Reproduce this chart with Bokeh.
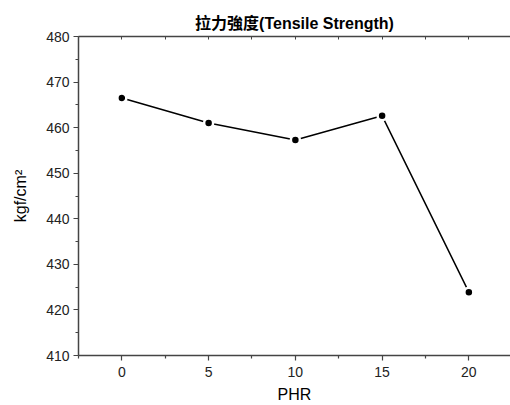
from bokeh.plotting import figure
from bokeh.models import Range1d, FixedTicker, LinearAxis, ColumnDataSource
from bokeh.embed import file_html
from bokeh.resources import INLINE

phr = [0, 5, 10, 15, 20]
strength = [466.5, 461.0, 457.3, 462.6, 423.9]
x_ticks = [0, 5, 10, 15, 20]
x_minor = [-2.5, 2.5, 7.5, 12.5, 17.5, 22.5]
y_ticks = [410, 420, 430, 440, 450, 460, 470, 480]
y_minor = [415, 425, 435, 445, 455, 465, 475]

FONT = "Liberation Sans, Arial, Noto Sans CJK TC"
AX = "#444444"
TXT = "#222222"

p = figure(width=510, height=405, output_backend="svg", toolbar_location=None,
           x_range=Range1d(-2.5, 22.4), y_range=Range1d(410, 480),
           min_border_left=78, min_border_right=0, min_border_top=36, min_border_bottom=49,
           title="拉力強度(Tensile Strength)")
p.title.align = "center"
p.title.offset = -5
p.title.text_font = FONT
p.title.text_font_size = "16px"
p.title.text_font_style = "bold"
p.title.text_color = "#000000"
p.outline_line_color = None
p.xgrid.visible = False
p.ygrid.visible = False

src = ColumnDataSource(dict(x=phr, y=strength))
p.line("x", "y", source=src, line_color="black", line_width=1.5)
p.scatter("x", "y", source=src, size=9, fill_color="black", line_color="white", line_width=2.5)

for ax in p.xaxis + p.yaxis:
    ax.axis_line_color = AX
    ax.axis_line_width = 1.5
    ax.major_tick_line_color = AX
    ax.minor_tick_line_color = AX
    ax.major_tick_line_width = 1.2
    ax.minor_tick_line_width = 1.2
    ax.major_tick_in = 0
    ax.minor_tick_in = 0
    ax.major_tick_out = 5
    ax.minor_tick_out = 3
    ax.major_label_text_font = FONT
    ax.major_label_text_font_size = "14px"
    ax.major_label_text_color = TXT
    ax.axis_label_text_font = FONT
    ax.axis_label_text_font_size = "16px"
    ax.axis_label_text_font_style = "normal"
    ax.axis_label_text_color = "#000000"

p.xaxis.ticker = FixedTicker(ticks=x_ticks, minor_ticks=x_minor)
p.yaxis.ticker = FixedTicker(ticks=y_ticks, minor_ticks=y_minor)
p.xaxis.axis_label = "PHR"
p.yaxis.axis_label = "kgf/cm²"
p.xaxis.major_label_standoff = 6
p.xaxis.axis_label_standoff = 6
p.yaxis.major_label_standoff = 4
p.yaxis.axis_label_standoff = 14

top = LinearAxis(ticker=FixedTicker(ticks=x_ticks, minor_ticks=x_minor),
                 major_label_text_font_size="0px", major_label_text_alpha=0)
top.axis_line_color = AX
top.axis_line_width = 1.5
top.major_tick_line_color = AX
top.minor_tick_line_color = AX
top.major_tick_in = 3
top.major_tick_out = 0
top.minor_tick_in = 3
top.minor_tick_out = 0
top.major_label_standoff = 0
p.add_layout(top, "above")

open("out.html", "w").write(file_html(p, INLINE))
